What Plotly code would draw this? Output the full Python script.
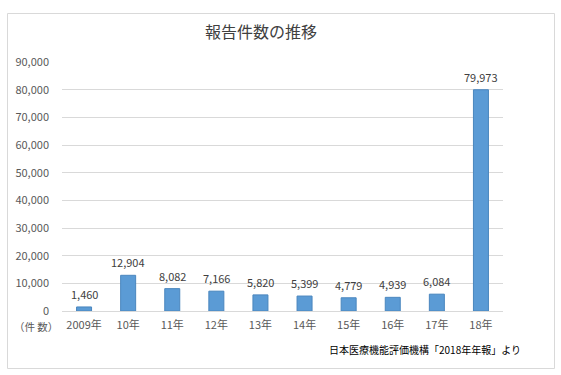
import plotly.graph_objects as go

categories = ["2009年", "10年", "11年", "12年", "13年", "14年", "15年", "16年", "17年", "18年"]
reports = [1460, 12904, 8082, 7166, 5820, 5399, 4779, 4939, 6084, 79973]
y_ticks = [0, 10000, 20000, 30000, 40000, 50000, 60000, 70000, 80000, 90000]
title_text = "報告件数の推移"
unit_text = "（件 数）"
source_text = "日本医療機能評価機構「2018年年報」より"

W, H = 561, 375
L, R, T, B = 62, 503, 62, 311

def px(x):
    return (x - L) / (R - L)

def py(y):
    return (B - y) / (B - T)

font_jp = "Noto Sans CJK JP, Noto Sans, sans-serif"

fig = go.Figure(go.Bar(
    x=categories, y=reports,
    marker=dict(color="#5B9BD5", line=dict(color="#4A86BE", width=1)),
    width=0.34,
    hoverinfo="x+y",
))

label_annotations = [
    dict(x=c, y=v, xref="x", yref="y", text=f"{v:,}", showarrow=False,
         yanchor="middle", yshift=13,
         font=dict(family=font_jp, size=11, color="#404040"))
    for c, v in zip(categories, reports)
]

fig.update_layout(
    width=W, height=H,
    margin=dict(l=L, r=W - R, t=T, b=H - B, autoexpand=False),
    paper_bgcolor="white", plot_bgcolor="white",
    showlegend=False,
    font=dict(family=font_jp, color="#595959", size=11),
    xaxis=dict(showgrid=False, showline=True, linecolor="#D9D9D9", linewidth=1,
               ticks="", automargin=False, ticklabelstandoff=4,
               tickfont=dict(size=11, color="#595959")),
    yaxis=dict(range=[0, 90000], tickvals=y_ticks,
               ticktext=[f"{v:,}" for v in y_ticks],
               showgrid=True, gridcolor="#D9D9D9", gridwidth=1,
               zeroline=False, showline=False, ticks="", automargin=False,
               ticklabelstandoff=12,
               tickfont=dict(size=11, color="#595959")),
    shapes=[dict(type="rect", xref="paper", yref="paper",
                 x0=px(7.5), x1=px(554.5), y0=py(13.5), y1=py(368.5),
                 line=dict(color="#D9D9D9", width=1), fillcolor="rgba(0,0,0,0)", layer="below")],
    annotations=[
        dict(text=title_text, xref="paper", yref="paper", x=px(261), y=py(31),
             xanchor="center", yanchor="middle", showarrow=False,
             font=dict(size=16, color="#404040", family=font_jp)),
        dict(text=unit_text, xref="paper", yref="paper", x=px(12), y=py(326),
             xanchor="left", yanchor="middle", showarrow=False,
             font=dict(size=10.5, color="#595959", family=font_jp)),
        dict(text=source_text, xref="paper", yref="paper", x=px(523), y=py(349),
             xanchor="right", yanchor="middle", showarrow=False,
             font=dict(size=10, color="#000000", family=font_jp)),
    ] + label_annotations,
)

fig.write_html("out.html", config={"displayModeBar": False},
               post_script="document.body.style.margin='0';")
